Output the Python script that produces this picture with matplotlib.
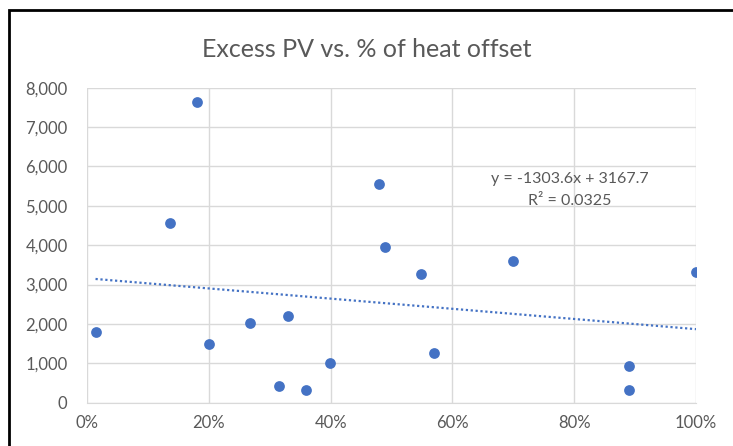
import numpy as np
import matplotlib.pyplot as plt
from matplotlib.ticker import FuncFormatter
from matplotlib.patches import Rectangle

# % of heat offset vs excess PV (kWh)
heat_offset = [0.014, 0.136, 0.180, 0.200, 0.268, 0.316, 0.330, 0.359, 0.399,
               0.479, 0.490, 0.549, 0.569, 0.700, 0.890, 0.890, 1.000]
excess_pv = [1790, 4555, 7645, 1490, 2030, 425, 2210, 315, 1015,
             5555, 3945, 3270, 1270, 3605, 940, 315, 3320]
eq_text = "y = -1303.6x + 3167.7"
r2_text = "R² = 0.0325"

plt.rcParams['font.family'] = ['Lato', 'DejaVu Sans']
grey = '#595959'
blue = '#4472C4'

fig = plt.figure(figsize=(7.33, 4.46), dpi=100)
ax = fig.add_axes([0.1187, 0.097, 0.8308, 0.7064])

ax.scatter(heat_offset, excess_pv, s=60, color=blue, zorder=3, linewidths=0)

# linear trendline over the data range
slope, intercept = np.polyfit(heat_offset, excess_pv, 1)
xs = np.array([min(heat_offset), max(heat_offset)])
ax.plot(xs, slope * xs + intercept, color=blue, linestyle=(0, (1, 1.2)), linewidth=1.6, zorder=2)

ax.text(0.793, 5670, eq_text, ha='center', va='center', fontsize=11.5, color=grey)
ax.text(0.793, 5120, r2_text, ha='center', va='center', fontsize=11.5, color=grey)

ax.set_xlim(0, 1)
ax.set_ylim(0, 8000)
ax.set_xticks(np.arange(0, 1.01, 0.2))
ax.set_yticks(np.arange(0, 8001, 1000))
ax.xaxis.set_major_formatter(FuncFormatter(lambda v, p: f"{v:.0%}"))
ax.yaxis.set_major_formatter(FuncFormatter(lambda v, p: f"{v:,.0f}"))
ax.grid(True, color='#d9d9d9', linewidth=1)
ax.set_axisbelow(True)
for s in ['top', 'right', 'left']:
    ax.spines[s].set_visible(False)
ax.spines['bottom'].set_color('#d9d9d9')
ax.tick_params(length=0, labelsize=12, colors=grey)
ax.tick_params(axis='y', pad=14)
ax.tick_params(axis='x', pad=9)

fig.suptitle('Excess PV vs. % of heat offset', x=0.5, y=0.915, fontsize=18, color=grey)

# chart border
fig.patches.append(Rectangle((9 / 733, -0.1), 1.1, 1 - 10 / 446 + 0.1, transform=fig.transFigure,
                             fill=False, edgecolor='black', linewidth=2))

fig.savefig('out.png', dpi=100)
